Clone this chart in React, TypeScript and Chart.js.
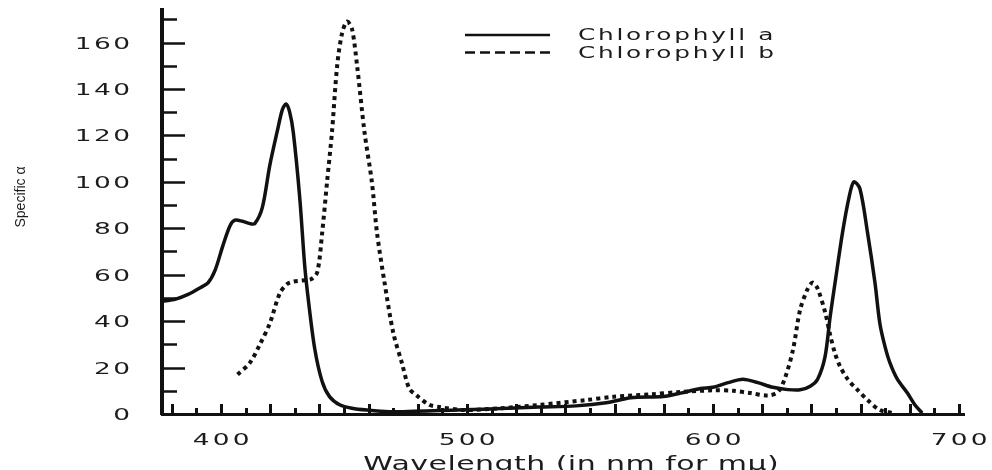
import React, { useEffect, useRef } from 'react';
import { Chart, registerables } from 'chart.js';

Chart.register(...registerables);

// ---------- data ----------
const wavelengthA = [
  376, 381.6, 386.6, 391.7, 394.7, 397.6, 400.6, 403.6, 405.6, 408.7, 411.7, 413.7, 416.8, 419.8,
  422.9, 424.9, 426.4, 427.9, 429.4, 432, 434, 435.5, 438.1, 441.1, 444.1, 448.2, 453.2, 459.3,
  468.4, 478.6, 488.7, 498.8, 514, 529.2, 544.3, 556.5, 566.6, 579.8, 586.8, 594.9, 600, 606.1,
  612.1, 618.2, 624.3, 630.4, 635.4, 639.5, 642.5, 645.5, 647.6, 649.6, 652.6, 655.2, 657.2,
  659.7, 662.8, 665.8, 667.8, 669.9, 671.9, 674.9, 679, 682, 685,
];
const chlorophyllA = [
  48.5, 49.5, 51.5, 54.5, 56.5, 62, 72, 81, 83.5, 83, 82, 82, 89, 107,
  122, 131, 133.5, 130, 121, 93, 64, 49, 28, 14, 7.5, 4, 2.5, 1.7,
  1, 1.2, 1.5, 1.8, 2.4, 3, 3.5, 4.8, 7, 7.5, 9, 11, 11.5, 13.5,
  15, 13.5, 11.5, 10.5, 10.4, 12, 15, 24.6, 42, 56.6, 78, 93, 100,
  97, 78, 56.6, 39, 29, 22, 15, 9, 4, 0.4,
];

const wavelengthB = [
  406.7, 411.7, 415.8, 419.8, 423.9, 426.9, 429.4, 433, 436.5, 439.1, 441.1, 443.1, 445.1, 447.2,
  449.2, 451.2, 453.2, 455.3, 458.3, 461.3, 463.4, 466.4, 470, 473.5, 476.5, 479.5, 484.6, 488.7,
  498.8, 514, 529.2, 548.4, 559.5, 574.7, 586.8, 600, 608.1, 615.2, 622.3, 626.4, 629.4, 632.5,
  635.4, 638.5, 640.5, 642.5, 645.5, 647.6, 649.6, 651.6, 654.7, 658.7, 662.8, 667.8, 672.9,
];
const chlorophyllB = [
  17, 22, 30, 39, 52, 56, 57, 57.5, 58, 61, 78, 100, 121.5, 150,
  164, 169, 166, 150, 121.5, 100, 78, 57, 35, 22, 11, 8, 4, 3,
  1.7, 2.5, 3.9, 6, 7.4, 8.5, 9.5, 10.2, 10, 9, 8, 9.5, 16, 27.7,
  45, 54, 56.6, 54, 44, 34, 26, 20.5, 15, 10.4, 6, 1.7, 0.4,
];

const seriesNames = ['Chlorophyll a', 'Chlorophyll b'];
const xTickLabels = [400, 500, 600, 700];
const yTickLabels = [0, 20, 40, 60, 80, 100, 120, 140, 160];
const xMinorTicks = [
  380, 390, 400, 410, 420, 430, 440, 450, 460, 470, 480, 490, 500, 510, 520, 530, 540, 550, 560,
  570, 580, 590, 600, 610, 620, 630, 640, 650, 660, 670, 680, 690, 700,
];
const yMinorTicks = [10, 20, 30, 40, 50, 60, 70, 80, 90, 100, 110, 120, 130, 140, 150, 160, 170];
const xTitle = 'Wavelength (in nm for mμ)';
const yTitle = 'Specific α';

const INK = '#111111';
const TEXT = '#1c1c1c';

function wideText(
  ctx: CanvasRenderingContext2D,
  text: string,
  x: number,
  y: number,
  align: 'left' | 'center' | 'right',
  size: number,
  sx: number,
  ls: number,
) {
  ctx.save();
  ctx.font = `${size}px "DejaVu Sans"`;
  (ctx as any).letterSpacing = '0px';
  ctx.textAlign = 'left';
  ctx.textBaseline = 'alphabetic';
  const w = (ctx.measureText(text).width + ls * (text.length - 1)) * sx;
  let left = x;
  if (align === 'center') left = x - w / 2;
  if (align === 'right') left = x - w;
  ctx.translate(left, y);
  ctx.scale(sx, 1);
  (ctx as any).letterSpacing = `${ls}px`;
  ctx.fillStyle = TEXT;
  ctx.fillText(text, 0, 0);
  ctx.restore();
}

export default function App() {
  const canvasRef = useRef<HTMLCanvasElement | null>(null);

  useEffect(() => {
    const canvas = canvasRef.current;
    if (!canvas) return;

    const decor = {
      id: 'decor',
      beforeDatasetsDraw(chart: any) {
        const { ctx, chartArea } = chart;
        const xs = chart.scales.x;
        const ys = chart.scales.y;
        ctx.save();
        ctx.strokeStyle = INK;
        ctx.lineWidth = 2.5;
        yMinorTicks.forEach((v) => {
          const py = Math.round(ys.getPixelForValue(v)) + 0.5;
          const len = v % 20 === 0 ? 23 : 15;
          ctx.beginPath();
          ctx.moveTo(chartArea.left, py);
          ctx.lineTo(chartArea.left + len, py);
          ctx.stroke();
        });
        ctx.lineWidth = 3;
        xMinorTicks.forEach((v) => {
          const px = Math.round(xs.getPixelForValue(v)) + 0.5;
          const len = v % 20 === 0 ? 10 : 6;
          ctx.beginPath();
          ctx.moveTo(px, chartArea.bottom);
          ctx.lineTo(px, chartArea.bottom - len);
          ctx.stroke();
        });
        ctx.restore();

        // tick labels
        yTickLabels.forEach((v) => {
          const py = ys.getPixelForValue(v);
          wideText(ctx, String(v), 130, py + 6, 'right', 16.5, 1.6, 1.5);
        });
        xTickLabels.forEach((v) => {
          const px = xs.getPixelForValue(v);
          wideText(ctx, String(v), px, 445, 'center', 16.5, 1.6, 2);
        });
      },
      afterDraw(chart: any) {
        const { ctx } = chart;
        // legend
        const sets = chart.data.datasets;
        const lineRows = [35, 52.5];
        const textRows = [40, 57.5];
        sets.forEach((ds: any, i: number) => {
          const yy = lineRows[i];
          ctx.save();
          ctx.strokeStyle = INK;
          ctx.lineWidth = 2.5;
          ctx.setLineDash(ds.borderDash && ds.borderDash.length ? [10, 5] : []);
          ctx.beginPath();
          ctx.moveTo(465, yy);
          ctx.lineTo(550, yy);
          ctx.stroke();
          ctx.restore();
          wideText(ctx, ds.label, 578, textRows[i], 'left', 15.5, 1.6, 1.7);
        });
        // x title
        wideText(ctx, xTitle, 571, 470, 'center', 20, 1.5, 0.3);
        // y title
        ctx.save();
        ctx.font = '14px "Liberation Sans"';
        ctx.fillStyle = TEXT;
        ctx.translate(21, 197);
        ctx.rotate(-Math.PI / 2);
        ctx.textAlign = 'center';
        ctx.textBaseline = 'middle';
        ctx.fillText(yTitle, 0, 0);
        ctx.restore();
      },
    };

    const chart = new Chart(canvas, {
      type: 'line',
      data: {
        datasets: [
          {
            label: seriesNames[0],
            data: wavelengthA.map((w, i) => ({ x: w, y: chlorophyllA[i] })),
            borderColor: INK,
            borderWidth: 3.5,
            pointRadius: 0,
            tension: 0.3,
            fill: false,
          },
          {
            label: seriesNames[1],
            data: wavelengthB.map((w, i) => ({ x: w, y: chlorophyllB[i] })),
            borderColor: INK,
            borderWidth: 4,
            borderDash: [4, 4],
            pointRadius: 0,
            tension: 0.3,
            fill: false,
          },
        ],
      },
      options: {
        animation: false,
        responsive: true,
        maintainAspectRatio: false,
        layout: { padding: { left: 0, top: 10, right: 28, bottom: 0 } },
        plugins: { legend: { display: false }, tooltip: { enabled: false } },
        scales: {
          x: {
            type: 'linear',
            min: 376,
            max: 702,
            grid: { display: false, drawTicks: false },
            border: { display: true, color: INK, width: 3 },
            ticks: { display: false },
            afterBuildTicks: (s: any) => {
              s.ticks = xTickLabels.map((v) => ({ value: v }));
            },
            afterFit: (s: any) => {
              s.height = 56;
              s.paddingLeft = 0;
              s.paddingRight = 0;
            },
          },
          y: {
            type: 'linear',
            min: 0,
            max: 174,
            grid: { display: false, drawTicks: false },
            border: { display: true, color: INK, width: 4 },
            ticks: { display: false },
            afterBuildTicks: (s: any) => {
              s.ticks = yTickLabels.map((v) => ({ value: v }));
            },
            afterFit: (s: any) => {
              s.width = 162;
              s.paddingTop = 0;
              s.paddingBottom = 0;
            },
          },
        },
      },
      plugins: [decor],
    } as any);

    return () => chart.destroy();
  }, []);

  return (
    <div style={{ position: 'fixed', left: 0, top: 0, width: 992, height: 470, background: '#fff' }}>
      <canvas ref={canvasRef} />
    </div>
  );
}
